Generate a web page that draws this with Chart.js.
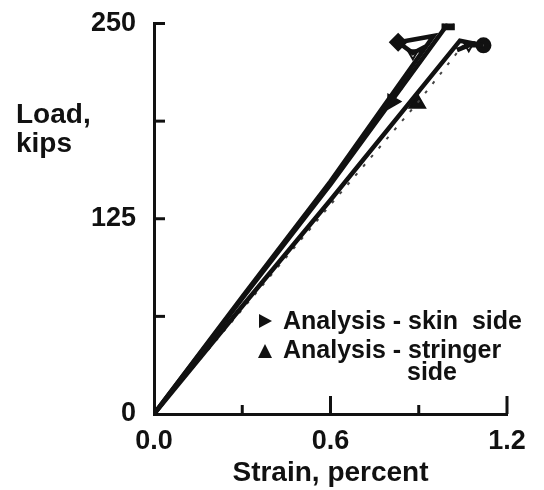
<!DOCTYPE html>
<html>
<head>
<meta charset="utf-8">
<script src="https://cdn.jsdelivr.net/npm/chart.js@4/dist/chart.umd.min.js"></script>
<style>
  body { margin: 0; background: #fff; }
  #wrap { position: relative; width: 544px; height: 490px; }
</style>
</head>
<body>
<div id="wrap"><canvas id="loadChart" width="544" height="490"></canvas></div>
<script>

// axis ticks
const strainTicks = [0, 0.3, 0.6, 0.9, 1.2];
const strainLabels = ['0.0', '', '0.6', '', '1.2'];
const loadTicks = [0, 62.5, 125, 187.5, 250];
const loadLabels = ['0', '', '125', '', '250'];

// test curves (strain %, load kips)
const diamondStrain = [0, 0.3, 0.6, 0.95, 0.83, 0.88, 0.93];
const diamondLoad   = [0, 75, 149, 242, 238, 231, 236];
const squareStrain  = [0, 0.3, 0.6, 1.0];
const squareLoad    = [0, 74, 147, 250];
const circleStrain  = [0, 0.3, 0.6, 1.04, 1.12, 1.07, 1.03];
const circleLoad    = [0, 69, 137, 239, 236, 236, 233];

// analysis
const skinStrain     = [0, 0.3, 0.6, 0.81, 0.97];
const skinLoad       = [0, 75, 149, 200, 242];
const stringerStrain = [0, 0.3, 0.6, 0.895, 1.05];
const stringerLoad   = [0, 67, 134, 199, 236];

// end markers
const skinEnd       = [0.81, 200];
const stringerEnd   = [0.895, 199];
const diamondEnd    = [0.83, 238];
const squareEnd     = [1.0, 250];
const circleEnd     = [1.12, 236];
const openTriangles = [[0.88, 231], [1.07, 236]];

const ink = '#111';

function pts(xs, ys) {
  return xs.map((x, i) => ({ x: x, y: ys[i] }));
}

function curve(xs, ys, color, width, dash) {
  return {
    data: pts(xs, ys),
    showLine: true,
    borderColor: color,
    borderWidth: width,
    borderDash: dash || [],
    pointRadius: 0,
    fill: false,
    tension: 0
  };
}

function marker(p, style, radius, filled, rotation) {
  return {
    data: [{ x: p[0], y: p[1] }],
    showLine: false,
    pointStyle: style,
    pointRadius: radius,
    pointRotation: rotation || 0,
    pointBackgroundColor: filled ? ink : '#fff',
    pointBorderColor: ink,
    pointBorderWidth: 2
  };
}

const datasets = [
  // black outlines
  curve(diamondStrain, diamondLoad, ink, 4.5),
  curve(squareStrain, squareLoad, ink, 4.5),
  curve(circleStrain, circleLoad, ink, 4.5),
  // white cores -> double line look
  curve(diamondStrain, diamondLoad, '#fff', 2),
  curve(squareStrain, squareLoad, '#fff', 2),
  curve(circleStrain, circleLoad, '#fff', 2),
  // analysis dashes
  curve(skinStrain, skinLoad, '#444', 2, [3, 9]),
  curve(stringerStrain, stringerLoad, '#444', 2, [3, 9]),
  marker(skinEnd, 'triangle', 8, true, 90),
  marker(stringerEnd, 'triangle', 9, true, 0),
  marker(diamondEnd, 'rectRot', 8, true),
  marker(squareEnd, 'rect', 8, true),
  marker(circleEnd, 'circle', 7, true),
  {
    data: openTriangles.map(p => ({ x: p[0], y: p[1] })),
    showLine: false,
    pointStyle: 'triangle',
    pointRadius: 6,
    pointRotation: 180,
    pointBackgroundColor: '#fff',
    pointBorderColor: ink,
    pointBorderWidth: 2
  }
];

const font = { family: 'Liberation Sans, Arial, sans-serif', size: 27, weight: 'bold', lineHeight: 1 };

// inward tick marks, y title and the legend
const extras = {
  id: 'extras',
  afterDraw(chart) {
    const ctx = chart.ctx;
    const xs = chart.scales.x, ys = chart.scales.y;
    const bottom = ys.getPixelForValue(0), left = xs.getPixelForValue(0);
    ctx.save();
    ctx.strokeStyle = ink;
    ctx.lineWidth = 3;
    strainTicks.forEach((v, i) => {
      if (i == 0) return;
      const px = xs.getPixelForValue(v);
      const len = strainLabels[i] ? 18 : 9;
      ctx.beginPath();
      ctx.moveTo(px, bottom);
      ctx.lineTo(px, bottom - len);
      ctx.stroke();
    });
    loadTicks.forEach((v, i) => {
      if (i == 0) return;
      const py = ys.getPixelForValue(v);
      ctx.beginPath();
      ctx.moveTo(left, py);
      ctx.lineTo(left + 11, py);
      ctx.stroke();
    });

    ctx.fillStyle = ink;
    ctx.font = 'bold 28px Liberation Sans, Arial, sans-serif';
    ctx.textBaseline = 'alphabetic';
    ctx.textAlign = 'left';
    ctx.fillText('Load,', 16, 123);
    ctx.fillText('kips', 16, 152);

    // legend
    ctx.font = 'bold 25px Liberation Sans, Arial, sans-serif';
    const lx = 265, ly = 321;
    ctx.beginPath();
    ctx.moveTo(lx - 6, ly - 7);
    ctx.lineTo(lx + 7, ly);
    ctx.lineTo(lx - 6, ly + 7);
    ctx.closePath();
    ctx.fill();
    ctx.fillText('Analysis - skin  side', 283, 329);
    ctx.beginPath();
    ctx.moveTo(lx - 7, ly + 37);
    ctx.lineTo(lx, ly + 23);
    ctx.lineTo(lx + 7, ly + 37);
    ctx.closePath();
    ctx.fill();
    ctx.fillText('Analysis - stringer', 283, 358);
    ctx.fillText('side', 407, 380);
    ctx.restore();
  }
};

new Chart(document.getElementById('loadChart').getContext('2d'), {
  type: 'scatter',
  data: { datasets: datasets },
  options: {
    responsive: false,
    animation: false,
    devicePixelRatio: 1,
    layout: { padding: { left: 0, top: 3, right: 37, bottom: 0 } },
    plugins: { legend: { display: false }, tooltip: { enabled: false } },
    scales: {
      x: {
        type: 'linear',
        min: 0,
        max: 1.2,
        afterBuildTicks: s => { s.ticks = strainTicks.map(v => ({ value: v })); },
        afterFit: s => { s.height = 76; },
        border: { display: true, color: ink, width: 3 },
        grid: { display: false },
        ticks: {
          color: ink,
          font: font,
          padding: 6,
          maxRotation: 0,
          autoSkip: false,
          callback: (v, i) => strainLabels[i]
        },
        title: { display: true, text: 'Strain, percent', color: ink, font: { family: font.family, size: 28, weight: 'bold' }, padding: { top: 2, bottom: 0 } }
      },
      y: {
        type: 'linear',
        min: 0,
        max: 250,
        afterBuildTicks: s => { s.ticks = loadTicks.map(v => ({ value: v })); },
        afterFit: s => { s.width = 154; },
        border: { display: true, color: ink, width: 3 },
        grid: { display: false },
        ticks: {
          color: ink,
          font: font,
          padding: 10,
          autoSkip: false,
          callback: (v, i) => loadLabels[i]
        }
      }
    }
  },
  plugins: [extras]
});
</script>
</body>
</html>
